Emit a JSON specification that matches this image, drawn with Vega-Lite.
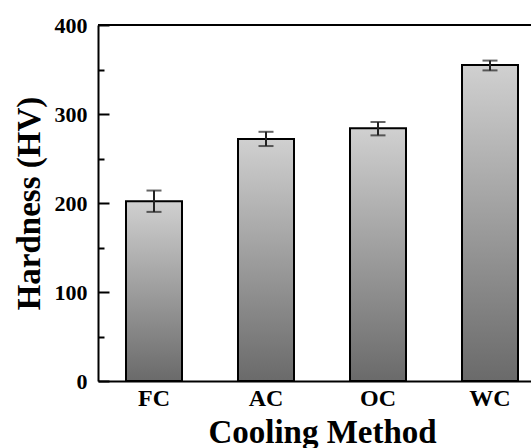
{
  "$schema": "https://vega.github.io/schema/vega-lite/v6.json",
  "width": 433,
  "height": 356,
  "autosize": "none",
  "padding": {"left": 98, "top": 25, "right": 0, "bottom": 67},
  "background": "white",
  "config": {"view": {"stroke": null}},
  "data": {"values": [
    {"method": "FC", "hardness": 202, "lo": 190, "hi": 214},
    {"method": "AC", "hardness": 272, "lo": 264, "hi": 280},
    {"method": "OC", "hardness": 284, "lo": 276, "hi": 291},
    {"method": "WC", "hardness": 355, "lo": 349, "hi": 360}
  ]},
  "encoding": {
    "x": {
      "field": "method", "type": "nominal", "sort": null,
      "scale": {"range": [0, 448], "paddingInner": 0.5, "paddingOuter": 0.25},
      "axis": {
        "title": "Cooling Method", "ticks": false, "labelAngle": 0,
        "domainColor": "black", "domainWidth": 2,
        "labelFont": "Liberation Serif", "labelFontWeight": "bold", "labelFontSize": 24, "labelColor": "black", "labelPadding": 5,
        "titleFont": "Liberation Serif", "titleFontWeight": "bold", "titleFontSize": 33, "titleColor": "black", "titlePadding": 6
      }
    }
  },
  "layer": [
    {
      "mark": {"type": "bar", "stroke": "black", "strokeWidth": 2,
        "color": {"gradient": "linear", "x1": 0, "y1": 0, "x2": 0, "y2": 1,
          "stops": [{"offset": 0, "color": "#d0d0d0"}, {"offset": 1, "color": "#6a6a6a"}]}},
      "encoding": {
        "y": {
          "field": "hardness", "type": "quantitative",
          "scale": {"domain": [0, 400], "nice": false},
          "axis": {
            "title": "Hardness (HV)", "grid": false,
            "values": [0, 50, 100, 150, 200, 250, 300, 350, 400],
            "labelExpr": "datum.value % 100 === 0 ? datum.label : ''",
            "ticks": true,
            "tickSize": {"condition": {"test": "datum.value % 100 === 0", "value": -11}, "value": -6},
            "tickWidth": 2, "tickColor": "black",
            "domainColor": "black", "domainWidth": 2,
            "labelFont": "Liberation Serif", "labelFontWeight": "bold", "labelFontSize": 22, "labelColor": "black", "labelPadding": 22,
            "titleFont": "Liberation Serif", "titleFontWeight": "bold", "titleFontSize": 33, "titleColor": "black", "titlePadding": 8
          }
        }
      }
    },
    {
      "mark": {"type": "rule", "color": "#222222", "strokeWidth": 2},
      "encoding": {"y": {"field": "lo", "type": "quantitative"}, "y2": {"field": "hi"}}
    },
    {
      "mark": {"type": "tick", "color": "#222222", "thickness": 2, "size": 15},
      "encoding": {"y": {"field": "lo", "type": "quantitative"}}
    },
    {
      "mark": {"type": "tick", "color": "#222222", "thickness": 2, "size": 15},
      "encoding": {"y": {"field": "hi", "type": "quantitative"}}
    },
    {
      "mark": {"type": "rule", "color": "black", "strokeWidth": 2},
      "encoding": {"y": {"datum": 400}, "x": null}
    }
  ]
}
